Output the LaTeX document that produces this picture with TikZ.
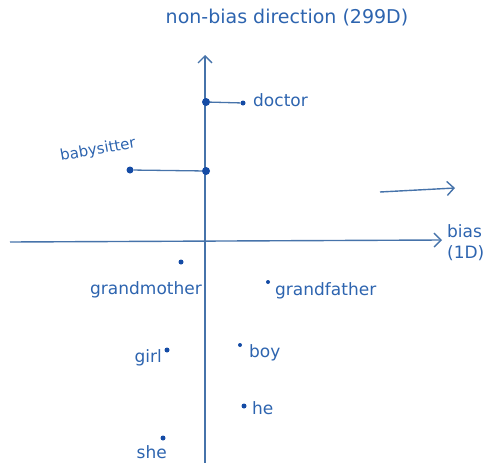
\documentclass[tikz,border=0pt]{standalone}
\usepackage{fontspec}
\setmainfont{DejaVu Sans}
\usetikzlibrary{arrows.meta}
\definecolor{ink}{RGB}{45,100,175}
\definecolor{inkline}{RGB}{70,115,170}
\definecolor{inkdot}{RGB}{20,75,165}
\tikzset{
  axisline/.style={draw=inkline, line width=1.4pt, -{Straight Barb[length=7pt,width=14pt]}},
  link/.style={draw=inkline, line width=1.3pt},
  bigdot/.style={circle, fill=inkdot, inner sep=0pt, minimum size=8pt},
  smalldot/.style={circle, fill=inkdot, inner sep=0pt, minimum size=5pt},
  word/.style={text=ink, font=\fontsize{17}{19}\selectfont, inner sep=1pt},
}
\begin{document}
\begin{tikzpicture}[x=1pt,y=-1pt]
\useasboundingbox (0,0) rectangle (504,463);
% axes
\coordinate (vbot) at (205,463);
\coordinate (vtop) at (205,55);
\coordinate (hleft) at (10,242);
\coordinate (hright) at (442,240);
\draw[axisline] (vbot) -- (vtop);
\draw[axisline] (hleft) -- (hright);
\coordinate (dirA) at (380,192);
\coordinate (dirB) at (455,188);
\draw[axisline] (dirA) -- (dirB);
% labels of axes
\node[word, font=\fontsize{19}{21}\selectfont] (title) at (287,18) {non-bias direction (299D)};
\node[word, anchor=west] (bias) at (446,231) {bias};
\node[word, anchor=west] (biasd) at (446,253) {(1D)};
% doctor
\node[bigdot] (docp) at (206,102) {};
\node[smalldot] (doc) at (243,103) {};
\draw[link] (doc) -- (docp);
\node[word, anchor=west] (doct) at (252,100) {doctor};
% babysitter
\node[smalldot, minimum size=7pt] (bab) at (130,170) {};
\node[bigdot] (babp) at (206,171) {};
\draw[link] (bab) -- (babp);
\node[word, rotate=10, font=\fontsize{15}{17}\selectfont] (babt) at (98,150) {babysitter};
% gendered words
\node[smalldot] (gm) at (181,262) {};
\node[word, anchor=east] (gmt) at (203,290) {grandmother};
\node[smalldot, minimum size=4pt] (gf) at (268,282) {};
\node[word, anchor=west] (gft) at (274,291) {grandfather};
\node[smalldot] (girl) at (167,350) {};
\node[word, anchor=east] (girlt) at (163,358) {girl};
\node[smalldot, minimum size=4pt] (boy) at (240,345) {};
\node[word, anchor=west] (boyt) at (248,353) {boy};
\node[smalldot] (he) at (244,406) {};
\node[word, anchor=west] (het) at (251,408) {he};
\node[smalldot] (she) at (163,438) {};
\node[word, anchor=east] (shet) at (168,452) {she};
\end{tikzpicture}
\end{document}
